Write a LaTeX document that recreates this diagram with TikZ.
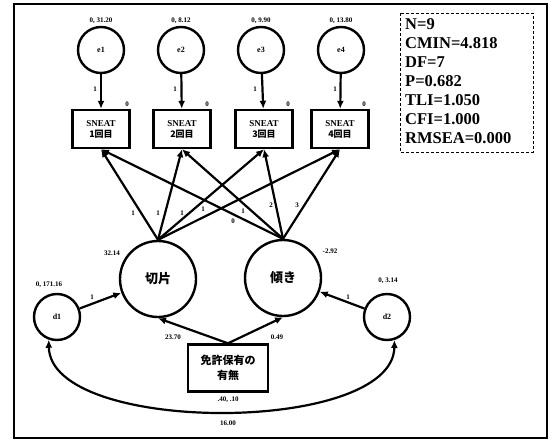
\documentclass[tikz,border=0pt]{standalone}
\usepackage{fontspec}
\setmainfont{Liberation Serif}
\newfontfamily\cjk{Noto Sans CJK JP}
\usetikzlibrary{arrows.meta}
\begin{document}
\begin{tikzpicture}[x=1pt,y=-1pt,
  thick line/.style={line width=2.2pt},
  arr/.style={thick line,-{Latex[length=8pt,width=7pt]}},
  darr/.style={thick line,{Latex[length=8pt,width=7pt]}-{Latex[length=8pt,width=7pt]}},
  errc/.style={circle,draw,line width=2.4pt,minimum size=46pt,inner sep=0pt,font=\bfseries\fontsize{8}{9}\selectfont},
  latc/.style={circle,draw,line width=2.4pt,minimum size=76pt,inner sep=0pt,font=\cjk\bfseries\fontsize{13}{14}\selectfont},
  obsbox/.style={rectangle,draw,line width=2.4pt,minimum width=57pt,minimum height=38pt,inner sep=1pt,align=center,font=\bfseries\fontsize{9}{11}\selectfont},
  lab/.style={inner sep=0pt,font=\bfseries\fontsize{7}{8}\selectfont},
  fit/.style={inner sep=0pt,anchor=west,font=\bfseries\fontsize{16.5}{18}\selectfont}]
\useasboundingbox (0,0) rectangle (553,441);
\fill[white] (0,0) rectangle (553,441);
% outer frame
\draw[line width=2.2pt] (14,4) rectangle (547,438);
% fit box
\draw[line width=0.7pt,dash pattern=on 3pt off 2pt] (400,13) rectangle (533,152);
\node[fit] (n) at (405,24) {N=9};
\node[fit] (cmin) at (405,43) {CMIN=4.818};
\node[fit] (df) at (405,62) {DF=7};
\node[fit] (p) at (405,81) {P=0.682};
\node[fit] (tli) at (405,100) {TLI=1.050};
\node[fit] (cfi) at (405,119) {CFI=1.000};
\node[fit] (rmsea) at (405,138) {RMSEA=0.000};
% error circles
\node[errc] (e1) at (101,50) {e1};
\node[errc] (e2) at (181,50) {e2};
\node[errc] (e3) at (261,50) {e3};
\node[errc] (e4) at (341,50) {e4};
\node[lab] (ve1) at (101,21) {0, 31.20};
\node[lab] (ve2) at (181,21) {0, 8.12};
\node[lab] (ve3) at (261,21) {0, 9.90};
\node[lab] (ve4) at (341,21) {0, 13.80};
% observed boxes
\node[obsbox] (b1) at (101,129) {SNEAT\\{\cjk 1回目}};
\node[obsbox] (b2) at (182,129) {SNEAT\\{\cjk 2回目}};
\node[obsbox] (b3) at (264,129) {SNEAT\\{\cjk 3回目}};
\node[obsbox] (b4) at (340,129) {SNEAT\\{\cjk 4回目}};
\node[lab] (i1) at (127,104) {0};
\node[lab] (i2) at (207,104) {0};
\node[lab] (i3) at (288,104) {0};
\node[lab] (i4) at (364,104) {0};
\foreach \i in {1,2,3,4}{
  \draw[arr] (e\i) -- (b\i);
}
\node[lab] (w1) at (95,89) {1};
\node[lab] (w2) at (175,89) {1};
\node[lab] (w3) at (255,89) {1};
\node[lab] (w4) at (335,89) {1};
% latent
\node[latc] (ic) at (158,279) {切片};
\node[latc] (sl) at (283,278) {傾き};
\node[lab] (mic) at (112,253) {32.14};
\node[lab] (msl) at (330,251) {-2.92};
\foreach \i in {1,2,3,4}{
  \draw[arr] (ic.north) -- (b\i.south);
  \draw[arr] (sl.north) -- (b\i.south);
}
\node[lab] (l1) at (133,213) {1};
\node[lab] (l2) at (158,213) {1};
\node[lab] (l3) at (182,213) {1};
\node[lab] (l4) at (203,209) {1};
\node[lab] (s1) at (233,221) {0};
\node[lab] (s2) at (243,211) {1};
\node[lab] (s3) at (271,205) {2};
\node[lab] (s4) at (297,205) {3};
% disturbances
\node[errc] (d1) at (57,317) {d1};
\node[errc] (d2) at (387,317) {d2};
\node[lab] (vd1) at (49,285) {0, 171.16};
\node[lab] (vd2) at (388,281) {0, 3.14};
\draw[arr] (d1) -- (ic);
\draw[arr] (d2) -- (sl);
\node[lab] (wd1) at (92,297) {1};
\node[lab] (wd2) at (348,297) {1};
% license box
\node[obsbox,minimum width=80pt,minimum height=47pt,font=\cjk\bfseries\fontsize{11}{15}\selectfont] (lic) at (228,368) {免許保有の\\有無};
\draw[arr] (lic.north) -- (ic.south);
\draw[arr] (lic.north) -- (sl.south);
\node[lab] (g1) at (173,337) {23.70};
\node[lab] (g2) at (277,337) {0.49};
\node[lab] (mlic) at (228,400) {.40, .10};
% covariance
\draw[darr] (d1.250) .. controls (50,435) and (393,435) .. (d2.288);
\node[lab] (cov) at (228,423) {16.00};
\end{tikzpicture}
\end{document}
